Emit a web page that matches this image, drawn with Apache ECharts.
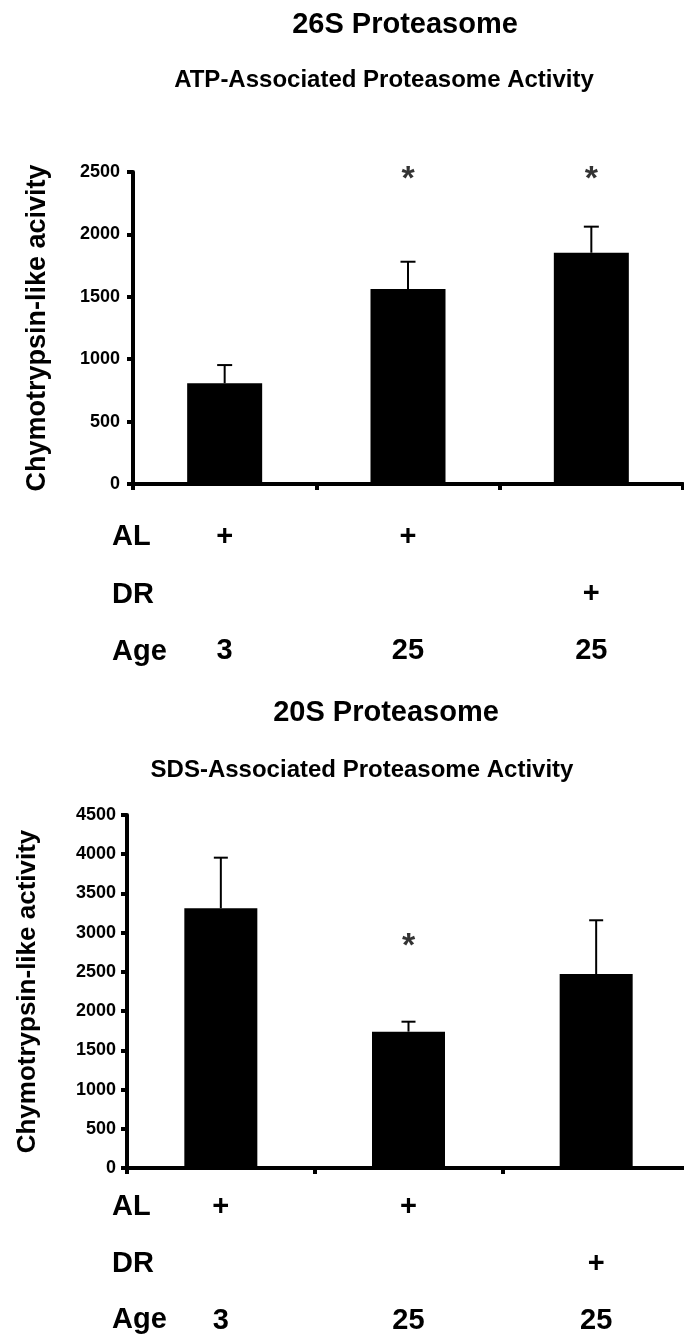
<!DOCTYPE html>
<html>
<head>
<meta charset="utf-8">
<script src="https://cdn.jsdelivr.net/npm/echarts@6/dist/echarts.min.js"></script>
<style>
html,body{margin:0;padding:0;background:#fff;}
#chart{width:684px;height:1335px;}
</style>
</head>
<body>
<div id="chart"></div>
<script>
// ---- Data ----
const groups = ['AL 3', 'AL 25', 'DR 25'];
const alRow = ['+', '+', ''];
const drRow = ['', '', '+'];
const ageRow = ['3', '25', '25'];
const rowHeaders = ['AL', 'DR', 'Age'];

// 26S Proteasome (ATP-associated)
const atpMean = [807, 1562, 1853];
const atpErrTop = [953, 1781, 2062];
const atpStar = [null, 2500, 2500];

// 20S Proteasome (SDS-associated)
const sdsMean = [3311, 1738, 2473];
const sdsErrTop = [3956, 1865, 3158];
const sdsStar = [null, 2930, null];

const yTicksTop = [0, 2500, 500];     // min, max, interval
const yTicksBottom = [0, 4500, 500];

const FONT = '"Liberation Sans", Arial, sans-serif';

const chart = echarts.init(document.getElementById('chart'), null, {renderer: 'canvas'});

function xAxisDef(gridIndex, margin) {
  return {
    type: 'category', gridIndex: gridIndex, data: groups,
    axisLine: {lineStyle: {color: '#000', width: 4}},
    axisTick: {show: true, length: 6, lineStyle: {color: '#000', width: 4}},
    axisLabel: {
      interval: 0, margin: margin, color: '#000', fontFamily: FONT, fontWeight: 'bold',
      fontSize: 29, lineHeight: 57, align: 'center',
      formatter: function (v, i) { return [alRow[i] || ' ', drRow[i] || ' ', ageRow[i] || ' '].join('\n'); }
    }
  };
}
function yAxisDef(gridIndex, ticks, name, nameGap, nameSize, labelSize, labelMargin) {
  return {
    type: 'value', gridIndex: gridIndex, min: ticks[0], max: ticks[1], interval: ticks[2],
    name: name, nameLocation: 'middle', nameRotate: 90, nameGap: nameGap,
    nameTextStyle: {color: '#000', fontFamily: FONT, fontWeight: 'bold', fontSize: nameSize},
    axisLine: {show: true, lineStyle: {color: '#000', width: 4}},
    axisTick: {show: true, length: 6, lineStyle: {color: '#000', width: 4}},
    splitLine: {show: false},
    axisLabel: {color: '#000', fontFamily: FONT, fontWeight: 'bold', fontSize: labelSize, margin: labelMargin,
      formatter: function (v) { return String(v); }}
  };
}
function errSeries(idx, means, tops, capW) {
  return {
    type: 'custom', xAxisIndex: idx, yAxisIndex: idx, z: 5,
    data: means.map((m, i) => [i, m, tops[i]]),
    renderItem: function (params, api) {
      const p0 = api.coord([api.value(0), api.value(1)]);
      const p1 = api.coord([api.value(0), api.value(2)]);
      return {
        type: 'group',
        children: [
          {type: 'line', shape: {x1: p0[0], y1: p0[1], x2: p1[0], y2: p1[1]}, style: {stroke: '#000', lineWidth: 2}},
          {type: 'line', shape: {x1: p1[0] - capW / 2, y1: p1[1], x2: p1[0] + capW / 2, y2: p1[1]}, style: {stroke: '#000', lineWidth: 2}}
        ]
      };
    }
  };
}
function starSeries(idx, stars) {
  return {
    type: 'scatter', xAxisIndex: idx, yAxisIndex: idx, symbolSize: 1, itemStyle: {color: 'rgba(0,0,0,0)'},
    data: stars.map((s, i) => s == null ? null : [i, s]).filter(d => d),
    label: {show: true, position: 'inside', formatter: '*', color: '#000', fontFamily: FONT, fontWeight: 'bold', fontSize: 34, offset: [0, 8]}
  };
}
function txt(text, x, y, size, align) {
  return {type: 'text', x: x, y: y, style: {text: text, fill: '#000', font: 'bold ' + size + 'px ' + FONT, textAlign: align || 'center', textVerticalAlign: 'middle'}};
}

const graphics = [
  txt('26S Proteasome', 405, 25, 29),
  txt('ATP-Associated Proteasome Activity', 384, 80, 24),
  txt('20S Proteasome', 386, 713, 29),
  txt('SDS-Associated Proteasome Activity', 362, 770, 24)
];
const topRows = [537, 595, 652];
const botRows = [1207, 1264, 1320];
rowHeaders.forEach((h, i) => {
  graphics.push(txt(h, 112, topRows[i], 29, 'left'));
  graphics.push(txt(h, 112, botRows[i], 29, 'left'));
});

chart.setOption({
  animation: false,
  backgroundColor: '#fff',
  grid: [
    {left: 133, top: 172, width: 550, height: 312, outerBoundsMode: 'none', containLabel: false},
    {left: 127, top: 815, width: 563, height: 353, outerBoundsMode: 'none', containLabel: false}
  ],
  xAxis: [xAxisDef(0, 24), xAxisDef(1, 10)],
  yAxis: [
    yAxisDef(0, yTicksTop, 'Chymotrypsin-like acivity', 82, 27, 18, 13),
    yAxisDef(1, yTicksBottom, 'Chymotrypsin-like activity', 86, 26, 18, 11)
  ],
  graphic: graphics,
  series: [
    {type: 'bar', xAxisIndex: 0, yAxisIndex: 0, data: atpMean, barWidth: 75, itemStyle: {color: '#000'}, z: 3},
    errSeries(0, atpMean, atpErrTop, 15),
    starSeries(0, atpStar),
    {type: 'bar', xAxisIndex: 1, yAxisIndex: 1, data: sdsMean, barWidth: 73, itemStyle: {color: '#000'}, z: 3},
    errSeries(1, sdsMean, sdsErrTop, 14),
    starSeries(1, sdsStar)
  ]
});
</script>
</body>
</html>
